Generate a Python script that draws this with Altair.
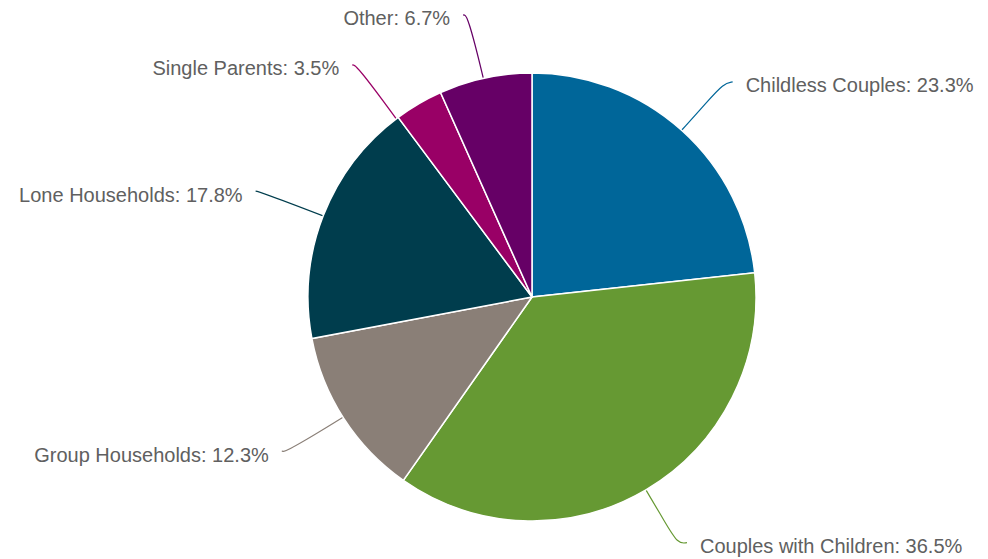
import math
import altair as alt
import pandas as pd

categories = ["Childless Couples", "Couples with Children", "Group Households",
              "Lone Households", "Single Parents", "Other"]
shares = [23.3, 36.5, 12.3, 17.8, 3.5, 6.7]
colors = ["#006699", "#669933", "#8a7f77", "#003d4d", "#990066", "#660066"]

R = 224        # pie radius (px)
R_END = 287    # connector end radius
R_MID = 262
TAIL = 9
GAP = 22
MIN_SPACING = 50

total = sum(shares)
rows = []
cum = 0.0
for i, (c, s) in enumerate(zip(categories, shares)):
    mid = (cum + s / 2) / total * 2 * math.pi
    cum += s
    rows.append(dict(category=c, share=s, order=i, mid=mid,
                     side="right" if math.sin(mid) >= 0 else "left",
                     ey=R_END * math.cos(mid)))

# simple vertical collision avoidance per side (top to bottom)
for side in ("left", "right"):
    grp = sorted([r for r in rows if r["side"] == side], key=lambda r: -r["ey"])
    prev = None
    for r in grp:
        if prev is not None and prev - r["ey"] < MIN_SPACING:
            r["ey"] = prev - MIN_SPACING
        prev = r["ey"]

line_rows, label_rows = [], []
for r in rows:
    sgn = 1 if r["side"] == "right" else -1
    ex = sgn * math.sqrt(max(R_END ** 2 - r["ey"] ** 2, 0))
    ang = math.atan2(ex, r["ey"])
    pts = [
        (R * math.sin(r["mid"]), R * math.cos(r["mid"])),
        (R_MID * math.sin((r["mid"] + ang) / 2), R_MID * math.cos((r["mid"] + ang) / 2)),
        (ex, r["ey"]),
        (ex + sgn * TAIL, r["ey"] + 1.5),
    ]
    for k, (px, py) in enumerate(pts):
        line_rows.append(dict(category=r["category"], k=k, x=px, y=py))
    label_rows.append(dict(category=r["category"], side=r["side"],
                           x=ex + sgn * GAP, y=r["ey"],
                           label=f"{r['category']}: {r['share']}%"))

pie_df = pd.DataFrame([dict(category=r["category"], share=r["share"], order=r["order"],
                            cx=0, cy=0) for r in rows])
line_df = pd.DataFrame(line_rows)
label_df = pd.DataFrame(label_rows)

W, H = 972, 551
CX, CY = 524, 289
xs = alt.Scale(domain=[-CX, W - CX], nice=False, zero=False)
ys = alt.Scale(domain=[-(H - CY), CY], nice=False, zero=False)
cs = alt.Scale(domain=categories, range=colors)

pie = alt.Chart(pie_df).mark_arc(outerRadius=R, stroke="white", strokeWidth=1.5).encode(
    theta=alt.Theta("share:Q", stack=True),
    order=alt.Order("order:Q"),
    color=alt.Color("category:N", scale=cs, legend=None),
    x=alt.X("cx:Q", scale=xs, axis=None),
    y=alt.Y("cy:Q", scale=ys, axis=None),
)

lines = alt.Chart(line_df).mark_line(interpolate="basis", strokeWidth=1.2).encode(
    x=alt.X("x:Q", scale=xs, axis=None),
    y=alt.Y("y:Q", scale=ys, axis=None),
    detail="category:N",
    order="k:Q",
    color=alt.Color("category:N", scale=cs, legend=None),
)

text_style = dict(font="Liberation Sans", fontSize=20, color="#606060",
                  baseline="middle", dy=3)
right_labels = alt.Chart(label_df).transform_filter(
    alt.datum.side == "right").mark_text(align="left", **text_style).encode(
    x=alt.X("x:Q", scale=xs, axis=None),
    y=alt.Y("y:Q", scale=ys, axis=None),
    text="label:N",
)
left_labels = alt.Chart(label_df).transform_filter(
    alt.datum.side == "left").mark_text(align="right", **text_style).encode(
    x=alt.X("x:Q", scale=xs, axis=None),
    y=alt.Y("y:Q", scale=ys, axis=None),
    text="label:N",
)

chart = alt.layer(lines, pie, right_labels, left_labels).properties(
    width=W, height=H, autosize=alt.AutoSizeParams(type="none"), padding=0,
).configure_view(stroke=None)

chart.save("out.html", embed_options={"renderer": "svg", "actions": False})
